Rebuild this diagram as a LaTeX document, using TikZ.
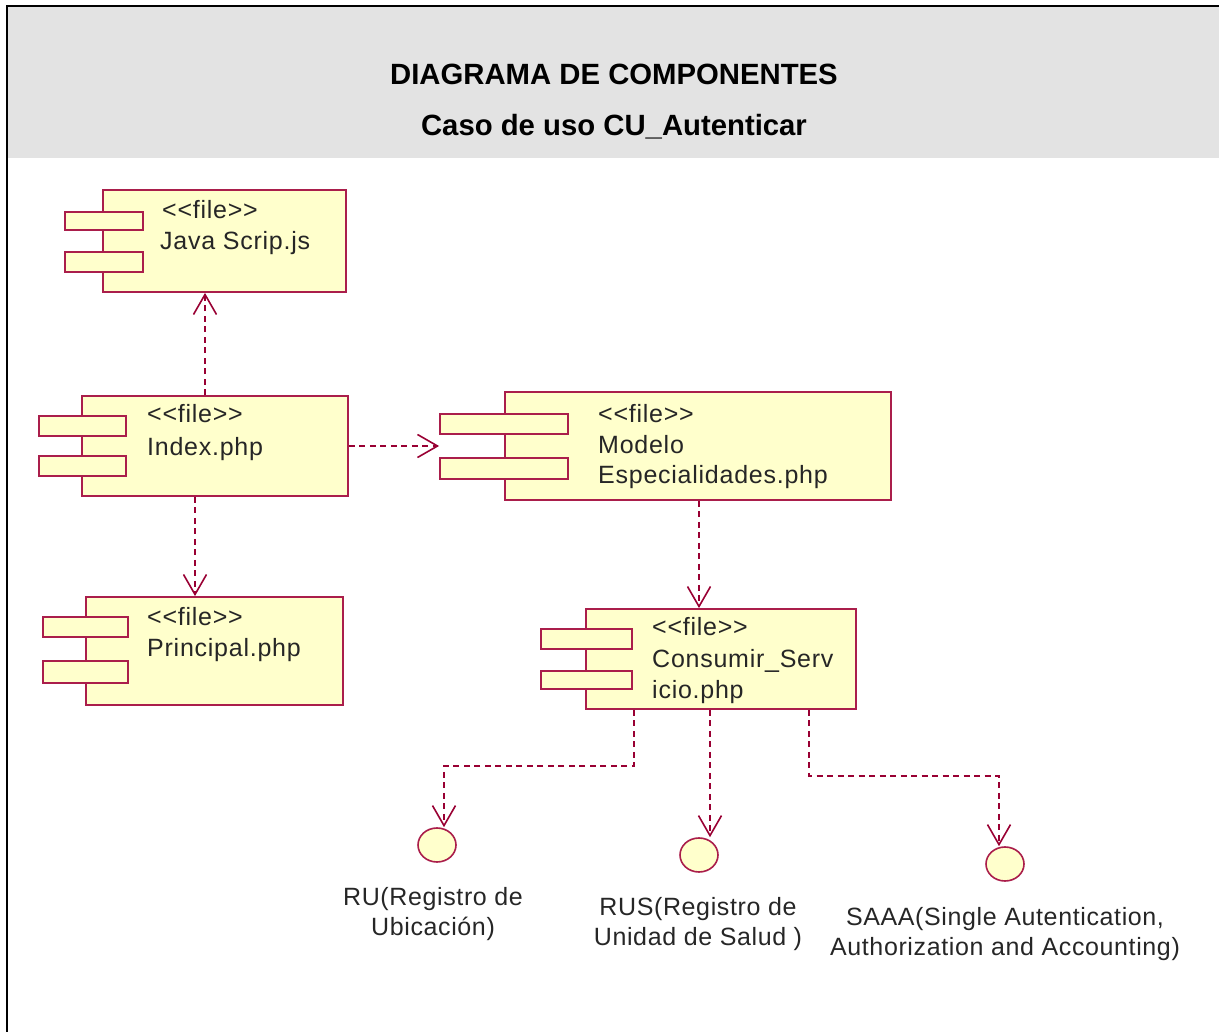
\documentclass[tikz,border=0pt]{standalone}
\usepackage{fontspec}
\setmainfont{Liberation Sans}
\newfontfamily\umlfont[LetterSpace=3]{Liberation Sans}
\newfontfamily\capfont[LetterSpace=2.5]{Liberation Sans}
\usetikzlibrary{shapes.geometric,arrows.meta}
\definecolor{umlline}{RGB}{170,30,75}
\definecolor{umldash}{RGB}{153,0,51}
\definecolor{umlfill}{RGB}{255,255,204}
\definecolor{headgray}{RGB}{227,227,227}
\newcommand{\filetag}{{<}{<}file{>}{>}}

\begin{document}
\begin{tikzpicture}[x=1pt, y=-1pt]
    % Define block styles
    \tikzstyle{body} = [rectangle, draw=umlline, fill=umlfill, line width=1.8pt, inner sep=0pt]
    \tikzstyle{tab} = [body]
    \tikzstyle{iface} = [ellipse, draw=umlline, fill=umlfill, line width=1.6pt, inner sep=0pt,
        minimum width=38pt, minimum height=34pt]
    \tikzstyle{label} = [anchor=west, inner sep=0pt, font=\umlfont\fontsize{25}{25}\selectfont, text=black!85]
    \tikzstyle{caption} = [inner sep=0pt, align=center, font=\capfont\fontsize{25}{30}\selectfont, text=black!85]
    \tikzstyle{title} = [inner sep=0pt, font=\fontsize{29.3}{30}\selectfont\bfseries]
    \tikzstyle{line} = [draw=umldash, line width=1.6pt, dash pattern=on 6pt off 4.5pt,
        -{Straight Barb[length=20pt,width=23pt,line width=1.6pt]}]

    \useasboundingbox (0,0) rectangle (1219,1032);

    % Header and frame
    \fill [headgray] (8,7) rectangle (1219,158);
    \draw [line width=2.6pt] (7,1032) -- (7,6) -- (1219,6);
    \node [title] (heading) at (614,74) {DIAGRAMA DE COMPONENTES};
    \node [title] (subheading) at (614,126.5) {Caso de uso CU\_Autenticar};

    % Place nodes
    \node [body, minimum width=243pt, minimum height=102pt] (java) at (224.5,241) {};
    \node [tab, minimum width=78pt, minimum height=18pt] (javaA) at (104,221) {};
    \node [tab, minimum width=78pt, minimum height=20pt] (javaB) at (104,262) {};
    \node [label] (javaFile) at (162,210) {\filetag};
    \node [label] (javaName) at (160,243) {Java Scrip.js};

    \node [body, minimum width=266pt, minimum height=100pt] (index) at (215,446) {};
    \node [tab, minimum width=87pt, minimum height=20pt] (indexA) at (82.5,426) {};
    \node [tab, minimum width=87pt, minimum height=20pt] (indexB) at (82.5,466) {};
    \node [label] (indexFile) at (147,414) {\filetag};
    \node [label] (indexName) at (147,449) {Index.php};

    \node [body, minimum width=386pt, minimum height=108pt] (modelo) at (698,446) {};
    \node [tab, minimum width=128pt, minimum height=20pt] (modeloA) at (504,424) {};
    \node [tab, minimum width=128pt, minimum height=21pt] (modeloB) at (504,468.5) {};
    \node [label] (modeloFile) at (598,414) {\filetag};
    \node [label] (modeloName) at (598,445) {Modelo};
    \node [label] (modeloExt) at (598,477) {Especialidades.php};

    \node [body, minimum width=257pt, minimum height=108pt] (principal) at (214.5,651) {};
    \node [tab, minimum width=85pt, minimum height=20pt] (principalA) at (85.5,627) {};
    \node [tab, minimum width=85pt, minimum height=22pt] (principalB) at (85.5,672) {};
    \node [label] (principalFile) at (147,617) {\filetag};
    \node [label] (principalName) at (147,650) {Principal.php};

    \node [body, minimum width=270pt, minimum height=100pt] (consumir) at (721,659) {};
    \node [tab, minimum width=91pt, minimum height=20pt] (consumirA) at (586.5,639) {};
    \node [tab, minimum width=91pt, minimum height=18pt] (consumirB) at (586.5,680) {};
    \node [label] (consumirFile) at (652,627) {\filetag};
    \node [label] (consumirName) at (652,661) {Consumir\_Serv};
    \node [label] (consumirExt) at (652,692) {icio.php};

    \node [iface] (ru) at (437,845) {};
    \node [iface] (rus) at (699,855) {};
    \node [iface] (saaa) at (1005,864) {};
    \node [caption] (ruText) at (433,914) {RU(Registro de\\Ubicación)};
    \node [caption] (rusText) at (698,924) {RUS(Registro de\\Unidad de Salud )};
    \node [caption] (saaaText) at (1005,934) {SAAA(Single Autentication,\\Authorization and Accounting)};

    % Draw edges
    \path [line] ([xshift=-10]index.north) -- ([xshift=-19.5]java.south);
    \path [line] (index.east) -- (modeloA.west |- index.east);
    \path [line] ([xshift=-20]index.south) -- ([xshift=-19.5]principal.north);
    \path [line] ([xshift=1]modelo.south) -- ([xshift=-22]consumir.north);
    \path [line] ([xshift=-87]consumir.south) -- ++(0,56) -| ([xshift=7]ru.north);
    \path [line] ([xshift=-11]consumir.south) -- ([xshift=11]rus.north);
    \path [line] ([xshift=88]consumir.south) -- ++(0,66) -| ([xshift=-6]saaa.north);
\end{tikzpicture}
\end{document}
